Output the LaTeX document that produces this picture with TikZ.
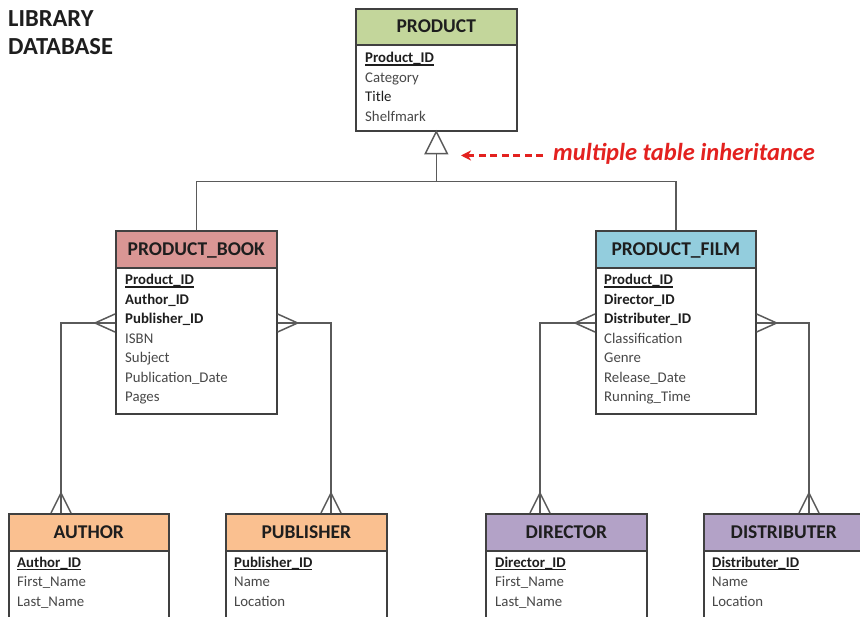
\documentclass[tikz,border=0pt]{standalone}
\usepackage{fontspec}
\setmainfont{Carlito}
\usetikzlibrary{arrows.meta,calc}
\definecolor{linegray}{HTML}{5A5A5A}
\definecolor{boxline}{HTML}{404040}
\definecolor{attrgray}{HTML}{484848}
\definecolor{keyblack}{HTML}{1E1E1E}
\definecolor{hdrgreen}{HTML}{C3D69B}
\definecolor{hdrred}{HTML}{D99694}
\definecolor{hdrblue}{HTML}{93CDDD}
\definecolor{hdrorange}{HTML}{FAC090}
\definecolor{hdrpurple}{HTML}{B3A2C7}
\definecolor{notered}{HTML}{E3211F}
\newcommand\ulkey[1]{\setbox0\hbox{#1}\rlap{\rule[-2.6pt]{\wd0}{1.1pt}}\box0}
\newcommand\ertable[8]{%
  \node[hdr, fill=#7, minimum width=#4pt, minimum height=#5pt] (#1-h) at (#2,#3) {#8};
  \node[tbody, minimum width=#4pt, minimum height=#6pt] (#1) at (#2,#3+#5) {};
}
\tikzset{
  hdr/.style={draw=boxline, line width=1.6pt, anchor=north west, inner sep=0pt,
    text height=12pt, text depth=0pt, text=keyblack,
    font=\fontsize{19.5}{22}\selectfont\bfseries},
  tbody/.style={draw=boxline, line width=1.6pt, anchor=north west, inner sep=0pt, fill=white},
  attr/.style={anchor=base west, inner sep=0pt, font=\fontsize{14.8}{17}\selectfont, text=attrgray},
  fkey/.style={attr, text=keyblack, font=\fontsize{14.8}{17}\selectfont\bfseries},
  pkey/.style={fkey},
  conn/.style={draw=linegray, line width=1.5pt},
  titletext/.style={anchor=base west, inner sep=0pt, text=keyblack,
    font=\fontsize{24.5}{28}\selectfont\bfseries},
  notetext/.style={anchor=base west, inner sep=0pt, text=notered,
    font=\fontsize{24.5}{28}\selectfont\bfseries\itshape},
  notearrow/.style={draw=notered, line width=2.4pt, dash pattern=on 7pt off 4.5pt,
    -{Stealth[length=10pt,width=10pt,inset=3pt]}},
  footL/.pic={\draw[conn] (-20,0) -- (0,-9) (-20,0) -- (0,9);},
  footR/.pic={\draw[conn] (20,0) -- (0,-9) (20,0) -- (0,9);},
  footU/.pic={\draw[conn] (0,-20) -- (-10,0) (0,-20) -- (10,0);},
}
\begin{document}
\begin{tikzpicture}[x=1pt,y=-1pt]
\clip (0,0) rectangle (860,617);
\fill[white] (0,0) rectangle (860,617);

% title
\node[titletext] (title1) at (8,27) {LIBRARY};
\node[titletext] (title2) at (8,55) {DATABASE};

% tables
\ertable{product}{355}{8}{161}{36}{86}{hdrgreen}{PRODUCT}
\ertable{book}{115}{230}{161}{37}{146}{hdrred}{PRODUCT\_BOOK}
\ertable{film}{595}{230}{160}{37}{146}{hdrblue}{PRODUCT\_FILM}
\ertable{author}{8}{513}{160}{37}{90}{hdrorange}{AUTHOR}
\ertable{publisher}{225}{513}{161}{37}{90}{hdrorange}{PUBLISHER}
\ertable{director}{485}{513}{161}{37}{90}{hdrpurple}{DIRECTOR}
\ertable{distributer}{703}{513}{160}{37}{90}{hdrpurple}{DISTRIBUTER}

% PRODUCT rows
\node[pkey] (product-1) at (365,63) {\ulkey{Product\_ID}};
\node[attr] (product-2) at (365,82.5) {Category};
\node[attr, text=keyblack] (product-3) at (365,102) {Title};
\node[attr] (product-4) at (365,121.5) {Shelfmark};

% PRODUCT_BOOK rows
\node[pkey] (book-1) at (125,285) {\ulkey{Product\_ID}};
\node[fkey] (book-2) at (125,304.5) {Author\_ID};
\node[fkey] (book-3) at (125,324) {Publisher\_ID};
\node[attr] (book-4) at (125,343.5) {ISBN};
\node[attr] (book-5) at (125,363) {Subject};
\node[attr] (book-6) at (125,382.5) {Publication\_Date};
\node[attr] (book-7) at (125,402) {Pages};

% PRODUCT_FILM rows
\node[pkey] (film-1) at (604,285) {\ulkey{Product\_ID}};
\node[fkey] (film-2) at (604,304.5) {Director\_ID};
\node[fkey] (film-3) at (604,324) {Distributer\_ID};
\node[attr] (film-4) at (604,343.5) {Classification};
\node[attr] (film-5) at (604,363) {Genre};
\node[attr] (film-6) at (604,382.5) {Release\_Date};
\node[attr] (film-7) at (604,402) {Running\_Time};

% bottom tables rows
\node[pkey] (author-1) at (17,567) {\ulkey{Author\_ID}};
\node[attr] (author-2) at (17,586.5) {First\_Name};
\node[attr] (author-3) at (17,606) {Last\_Name};
\node[pkey] (publisher-1) at (234,567) {\ulkey{Publisher\_ID}};
\node[attr] (publisher-2) at (234,586.5) {Name};
\node[attr] (publisher-3) at (234,606) {Location};
\node[pkey] (director-1) at (495,567) {\ulkey{Director\_ID}};
\node[attr] (director-2) at (495,586.5) {First\_Name};
\node[attr] (director-3) at (495,606) {Last\_Name};
\node[pkey] (distributer-1) at (712,567) {\ulkey{Distributer\_ID}};
\node[attr] (distributer-2) at (712,586.5) {Name};
\node[attr] (distributer-3) at (712,606) {Location};

% inheritance
\coordinate (tribase) at ($(product.south)+(0,22)$);
\coordinate (split) at ($(product.south)+(0,50)$);
\draw[conn] (tribase) -- (split);
\draw[conn] (split) -| (book-h.north);
\draw[conn] (split) -| (film-h.north);
\draw[conn, fill=white] (product.south) -- ($(tribase)+(-11,0)$) -- ($(tribase)+(11,0)$) -- cycle;

% note
\node[notetext] (note) at (553,161) {multiple table inheritance};
\coordinate (notetip) at (461,155.5);
\draw[notearrow] ($(note.base west)+(-10,-5.5)$) -- (notetip);

% one-to-many connectors
\coordinate (bookL) at ($(book.north west)+(0,56)$);
\coordinate (bookR) at ($(book.north east)+(0,56)$);
\coordinate (filmL) at ($(film.north west)+(0,56)$);
\coordinate (filmR) at ($(film.north east)+(0,56)$);
\coordinate (authorT) at ($(author-h.north west)+(53,0)$);
\coordinate (publisherT) at ($(publisher-h.north west)+(106,0)$);
\coordinate (directorT) at ($(director-h.north west)+(55,0)$);
\coordinate (distributerT) at ($(distributer-h.north west)+(106,0)$);

\draw[conn] (bookL) -| (authorT);
\draw[conn] (bookR) -| (publisherT);
\draw[conn] (filmL) -| (directorT);
\draw[conn] (filmR) -| (distributerT);

\pic at (bookL) {footL};
\pic at (bookR) {footR};
\pic at (filmL) {footL};
\pic at (filmR) {footR};
\pic at (authorT) {footU};
\pic at (publisherT) {footU};
\pic at (directorT) {footU};
\pic at (distributerT) {footU};
\end{tikzpicture}
\end{document}
